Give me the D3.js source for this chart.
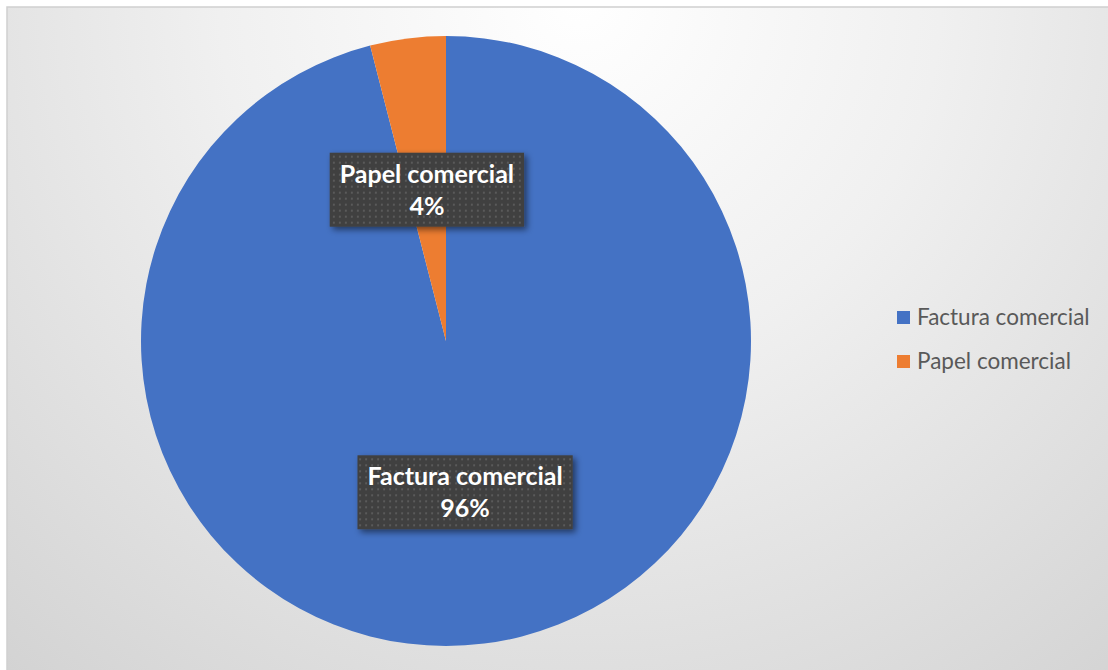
<!DOCTYPE html>
<html>
<head>
<meta charset="utf-8">
<script src="https://cdn.jsdelivr.net/npm/d3@7"></script>
<style>
  html, body { margin: 0; padding: 0; background: #ffffff; }
  svg { display: block; }
</style>
</head>
<body>
<svg id="chart" width="1108" height="670"></svg>
<script>
const categories = ["Factura comercial", "Papel comercial"];
const values = [96, 4];
const percentLabels = ["96%", "4%"];
const colors = ["#4472C4", "#ED7D31"];

const W = 1108, H = 670;
const svg = d3.select("#chart");
const defs = svg.append("defs");

const grad = defs.append("radialGradient")
  .attr("id", "bg").attr("gradientUnits", "userSpaceOnUse")
  .attr("cx", 580).attr("cy", 0).attr("r", 900);
grad.append("stop").attr("offset", "0").attr("stop-color", "#ffffff");
grad.append("stop").attr("offset", "0.4").attr("stop-color", "#f0f0f0");
grad.append("stop").attr("offset", "1").attr("stop-color", "#d2d2d2");

const pat = defs.append("pattern").attr("id", "dots")
  .attr("patternUnits", "userSpaceOnUse").attr("width", 6).attr("height", 6);
pat.append("rect").attr("width", 6).attr("height", 6).attr("fill", "#404040");
pat.append("rect").attr("x", 2).attr("y", 2).attr("width", 2).attr("height", 2).attr("fill", "#5a5a5a");

const sh = defs.append("filter").attr("id", "shadow")
  .attr("x", "-20%").attr("y", "-30%").attr("width", "140%").attr("height", "160%");
sh.append("feDropShadow").attr("dx", 3).attr("dy", 3).attr("stdDeviation", 3)
  .attr("flood-color", "#000").attr("flood-opacity", 0.5);

svg.append("rect").attr("x", 7).attr("y", 7).attr("width", W).attr("height", H)
  .attr("fill", "url(#bg)").attr("stroke", "#cfcfcf").attr("stroke-width", 1.5);

const cx = 446, cy = 341, R = 305;
const pie = d3.pie().sort(null).value(d => d)(values);
const arc = d3.arc().innerRadius(0).outerRadius(R);

const g = svg.append("g").attr("transform", `translate(${cx},${cy})`);
g.selectAll("path.slice").data(pie).join("path")
  .attr("class", "slice")
  .attr("d", arc)
  .attr("fill", (d, i) => colors[i]);

const font = "Lato, 'Open Sans', sans-serif";
pie.forEach((d, i) => {
  const [lx, ly] = arc.centroid(d);
  const lg = g.append("g").attr("transform", `translate(${lx},${ly})`);
  const box = lg.append("rect").attr("fill", "url(#dots)").attr("filter", "url(#shadow)");
  const t = lg.append("text")
    .attr("text-anchor", "middle")
    .attr("font-family", font).attr("font-weight", "bold")
    .attr("font-size", 25).attr("fill", "#ffffff");
  t.append("tspan").attr("x", 0).attr("y", -7).text(categories[i]);
  t.append("tspan").attr("x", 0).attr("y", 25).text(percentLabels[i]);
  const bb = t.node().getBBox();
  const padX = 10;
  box.attr("x", bb.x - padX).attr("y", -37)
     .attr("width", bb.width + 2 * padX).attr("height", 74);
});

const legend = svg.append("g").attr("transform", "translate(897,311)");
categories.forEach((c, i) => {
  const row = legend.append("g").attr("transform", `translate(0,${i * 44})`);
  row.append("rect").attr("width", 13).attr("height", 13).attr("fill", colors[i]);
  row.append("text").attr("x", 20).attr("y", 14)
    .attr("font-family", font).attr("font-size", 22.5).attr("fill", "#595959")
    .text(c);
});
</script>
</body>
</html>
